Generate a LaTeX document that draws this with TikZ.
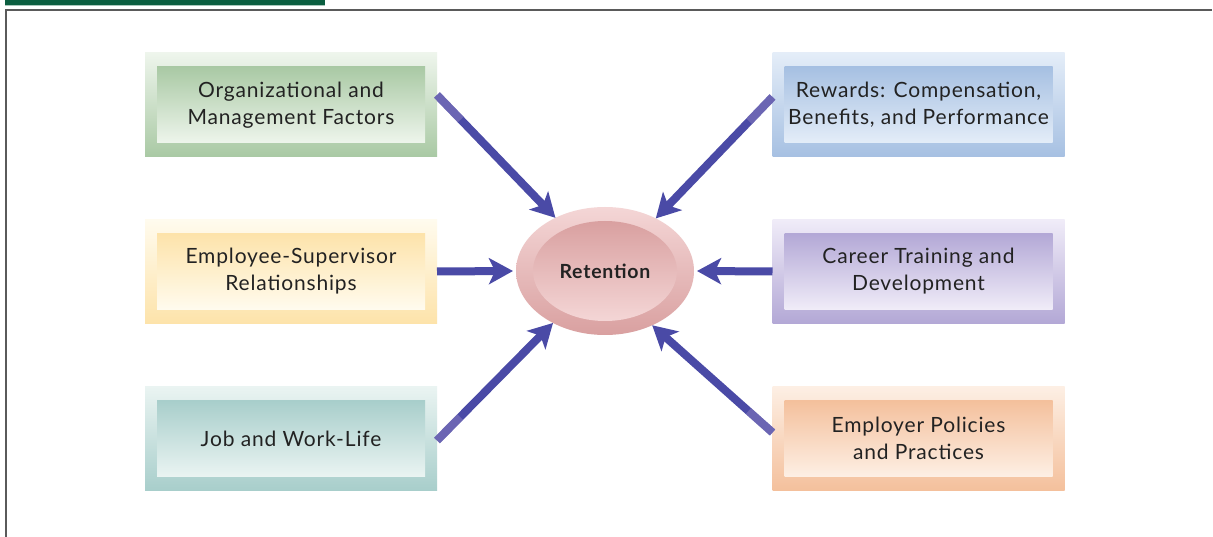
\documentclass[tikz,border=0pt]{standalone}
\usepackage{fontspec}
\setmainfont[LetterSpace=4]{Lato}
\usetikzlibrary{arrows.meta,calc,shapes.geometric}
\pgfdeclarelayer{background}
\pgfsetlayers{background,main}
\definecolor{txt}{HTML}{222222}
\definecolor{arrc}{HTML}{4A4AA6}
\definecolor{arrL}{HTML}{8C80C0}
\definecolor{frame}{HTML}{5A5A5A}
\definecolor{topbar}{HTML}{0B5E40}
\definecolor{grD}{HTML}{A9C9A4}\definecolor{grL}{HTML}{EEF5EC}
\definecolor{ylD}{HTML}{FDE3AA}\definecolor{ylL}{HTML}{FFFBEE}
\definecolor{tlD}{HTML}{A8CECB}\definecolor{tlL}{HTML}{EAF4F2}
\definecolor{blD}{HTML}{A6C0E2}\definecolor{blL}{HTML}{E4EDF8}
\definecolor{puD}{HTML}{B3A8D6}\definecolor{puL}{HTML}{F0ECF8}
\definecolor{orD}{HTML}{F4C09C}\definecolor{orL}{HTML}{FDEFE4}
\definecolor{rdD}{HTML}{D9A0A0}\definecolor{rdL}{HTML}{F4D6D6}
\tikzset{
  outerbox/.style 2 args={rectangle, minimum width=292pt, minimum height=104pt,
     inner sep=0pt, outer sep=0pt, top color=#2, bottom color=#1},
  innerbox/.style 2 args={rectangle, minimum width=268pt, minimum height=76pt,
     inner sep=0pt, outer sep=0pt, top color=#1, bottom color=#2,
     text=txt, font=\fontsize{21}{27}\selectfont, align=center},
  arr/.style={draw=arrc, line width=8pt,
     -{Stealth[length=24pt,width=26pt,inset=6pt]}},
  arrfade/.style={draw=arrL, line width=8pt, opacity=0.5},
}
\begin{document}
\begin{tikzpicture}[x=1pt,y=-1pt]
\useasboundingbox (0,0) rectangle (1213,537);
\fill[white] (0,0) rectangle (1213,537);
% top bar and frame
\fill[topbar] (5,0) rectangle (325,5);
\fill[topbar!35] (5,5) rectangle (325,6);
\draw[frame, line width=2pt] (6,537) -- (6,10) -- (1212,10);
% boxes
\node[outerbox={grD}{grL}] (g) at (291,105) {};
\node[innerbox={grD}{grL}] (gi) at (291,105) {Organizational and\\Management Factors};
\node[outerbox={ylD}{ylL}] (y) at (291,271.5) {};
\node[innerbox={ylD}{ylL}] (yi) at (291,271.5) {Employee-Supervisor\\Relationships};
\node[outerbox={tlD}{tlL}] (t) at (291,438.5) {};
\node[innerbox={tlD}{tlL}] (ti) at (291,438.5) {Job and Work-Life};
\node[outerbox={blD}{blL}] (b) at (918.5,105) {};
\node[innerbox={blD}{blL}] (bi) at (918.5,105) {Rewards: Compensation,\\Benefits, and Performance};
\node[outerbox={puD}{puL}] (p) at (918.5,271.5) {};
\node[innerbox={puD}{puL}] (pi) at (918.5,271.5) {Career Training and\\Development};
\node[outerbox={orD}{orL}] (o) at (918.5,438.5) {};
\node[innerbox={orD}{orL}] (oi) at (918.5,438.5) {Employer Policies\\and Practices};
% retention
\node[ellipse, minimum width=178pt, minimum height=128pt, inner sep=0pt, outer sep=0pt,
      top color=rdL, bottom color=rdD] (r) at (605,271) {};
\node[ellipse, minimum width=144pt, minimum height=100pt, inner sep=0pt, outer sep=0pt,
      top color=rdD, bottom color=rdL, text=txt,
      font=\fontsize{19.5}{22}\bfseries\selectfont] (ri) at (605,271) {Retention};
% shadows
\begin{pgfonlayer}{background}
\foreach \n in {g,y,t,b,p,o}{
  \foreach \i in {1,...,8}{
    \fill[black, opacity=0.025] ($(\n.north west)+(6-\i,6-\i)$) rectangle ($(\n.south east)+(5+\i,5+\i)$);
  }
}
\foreach \i in {1,...,8}{
  \fill[black, opacity=0.025] ($(r.center)+(4,4)$) ellipse [x radius=89+\i, y radius=64+\i];
}
\end{pgfonlayer}
% arrows
\draw[arr] ([yshift=10pt]g.east) -- (r.133);
\draw[arr] ([yshift=8pt]b.west) -- (r.46);
\draw[arr] (y.east) -- ([xshift=-3pt]r.west);
\draw[arr] (p.west) -- ([xshift=3pt]r.east);
\draw[arr] ([yshift=-2pt]t.east) -- (r.225);
\draw[arr] ([yshift=6pt]o.west) -- (r.311);
% lighter start of the diagonal arrows
\draw[arrfade] ([yshift=10pt]g.east) -- ($([yshift=10pt]g.east)!0.2!(r.133)$);
\draw[arrfade] ([yshift=8pt]b.west) -- ($([yshift=8pt]b.west)!0.2!(r.46)$);
\draw[arrfade] ([yshift=-2pt]t.east) -- ($([yshift=-2pt]t.east)!0.2!(r.225)$);
\draw[arrfade] ([yshift=6pt]o.west) -- ($([yshift=6pt]o.west)!0.2!(r.311)$);
\end{tikzpicture}
\end{document}
